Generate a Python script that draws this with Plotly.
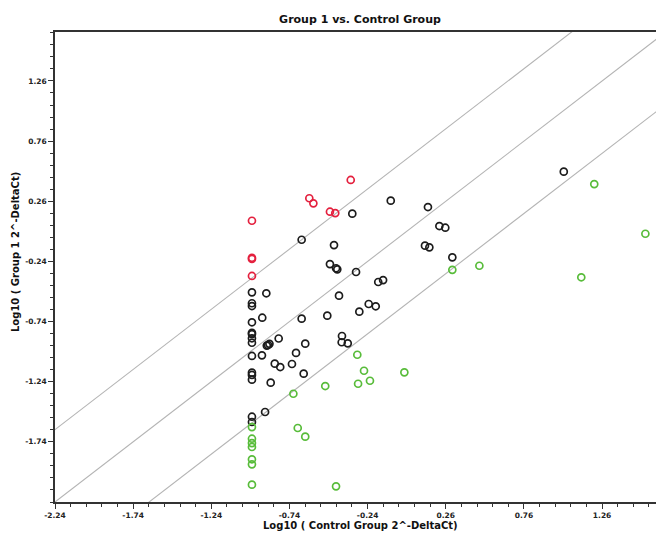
import math
import plotly.graph_objects as go

# ---- data (log10 2^-DeltaCt) ----
red_x = [-0.348, -0.613, -0.587, -0.481, -0.447, -0.98, -0.98, -0.98, -0.98]
red_y = [0.437, 0.285, 0.243, 0.173, 0.162, 0.098, -0.210, -0.220, -0.361]

black_x = [-0.092, 0.146, -0.338, 0.219, 0.257, -0.662, -0.455, 0.127, 0.155, 0.302,
           -0.481, -0.442, -0.434, -0.314, -0.172, -0.141, -0.98, -0.888, -0.423, -0.98,
           -0.98, -0.233, -0.188, -0.914, -0.662, -0.498, -0.293, -0.98, -0.98, -0.98,
           -0.98, -0.98, -0.809, -0.404, -0.885, -0.877, -0.868, -0.639, -0.406, -0.367,
           -0.98, -0.916, -0.698, -0.834, -0.799, -0.724, -0.649, -0.98, -0.98, -0.98,
           -0.860, -0.896, -0.98, -0.98, 1.015]
black_y = [0.265, 0.212, 0.157, 0.054, 0.040, -0.060, -0.104, -0.109, -0.123, -0.206,
           -0.262, -0.297, -0.306, -0.328, -0.411, -0.395, -0.497, -0.505, -0.525, -0.588,
           -0.611, -0.594, -0.613, -0.708, -0.716, -0.691, -0.658, -0.746, -0.833, -0.844,
           -0.879, -0.916, -0.881, -0.860, -0.940, -0.935, -0.925, -0.924, -0.912, -0.921,
           -1.026, -1.021, -1.001, -1.090, -1.118, -1.093, -1.173, -1.165, -1.184, -1.223,
           -1.248, -1.492, -1.531, -1.575, 0.506]

green_x = [0.302, 0.475, 1.210, 1.537, 1.127, -0.306, -0.263, -0.005, -0.511, -0.301,
           -0.225, -0.715, -0.98, -0.687, -0.639, -0.98, -0.98, -0.98, -0.98, -0.98,
           -0.98, -0.442]
green_y = [-0.310, -0.276, 0.403, -0.010, -0.372, -1.016, -1.149, -1.162, -1.276, -1.257,
           -1.232, -1.340, -1.617, -1.625, -1.697, -1.714, -1.750, -1.783, -1.885, -1.927,
           -2.096, -2.110]

fold_offsets = [math.log10(4), 0.0, -math.log10(4)]

x_tick_vals = [-2.24, -1.74, -1.24, -0.74, -0.24, 0.26, 0.76, 1.26]
x_tick_text = ["-2.24", "-1.74", "-1.24", "-0.74", "-0.24", "0.26", "0.76", "1.26"]
y_tick_vals = [-1.74, -1.24, -0.74, -0.24, 0.26, 0.76, 1.26]
y_tick_text = ["-1.74", "-1.24", "-0.74", "-0.24", "0.26", "0.76", "1.26"]

x_range = [-2.24, 1.605]
y_range = [-2.24, 1.667]

fig = go.Figure()

# boundary / identity lines
for off in fold_offsets:
    lx = [x_range[0] - 1, x_range[1] + 1]
    fig.add_trace(go.Scatter(x=lx, y=[v + off for v in lx], mode="lines",
                             line=dict(color="#b4b4b4", width=1.1),
                             hoverinfo="skip", showlegend=False))

def pts(x, y, color):
    return go.Scatter(x=x, y=y, mode="markers", showlegend=False,
                      marker=dict(symbol="circle-open", size=7, color=color,
                                  line=dict(width=1.7, color=color)))

fig.add_trace(pts(black_x, black_y, "#1c1c1c"))
fig.add_trace(pts(red_x, red_y, "#e4203e"))
fig.add_trace(pts(green_x, green_y, "#58bc3a"))

tickfont = dict(family="DejaVu Sans", size=7.5, color="#222", weight="bold")

fig.update_layout(
    width=656, height=533,
    margin=dict(l=55, r=0, t=32, b=31),
    paper_bgcolor="white", plot_bgcolor="white",
    title=dict(text="Group 1 vs. Control Group", xref="container", x=360 / 656,
               xanchor="center", y=1 - 19 / 533, yanchor="middle",
               font=dict(family="DejaVu Sans", size=11, color="#111", weight="bold")),
    xaxis=dict(range=x_range, tickmode="array", tickvals=x_tick_vals, ticktext=x_tick_text,
               showgrid=False, zeroline=False, showline=True, mirror=True,
               linecolor="#333", linewidth=1.5, ticks="outside", ticklen=5,
               tickcolor="#333", tickwidth=1, tickfont=tickfont,
               minor=dict(tickmode="linear", tick0=-2.24, dtick=0.1, ticks="outside",
                          ticklen=3, tickcolor="#333", showgrid=False)),
    yaxis=dict(range=y_range, tickmode="array", tickvals=y_tick_vals, ticktext=y_tick_text,
               showgrid=False, zeroline=False, showline=True, mirror=False,
               linecolor="#333", linewidth=1.5, ticks="outside", ticklen=5,
               tickcolor="#333", tickwidth=1, tickfont=tickfont,
               minor=dict(tickmode="linear", tick0=-2.24, dtick=0.1, ticks="outside",
                          ticklen=3, tickcolor="#333", showgrid=False)),
    annotations=[
        dict(text="Log10 ( Control Group 2^-DeltaCt)", xref="paper", yref="paper",
             x=(360 - 55) / 601, y=(502 - 525) / 470, xanchor="center", yanchor="middle",
             showarrow=False,
             font=dict(family="DejaVu Sans", size=10, color="#111", weight="bold")),
        dict(text="Log10 ( Group 1 2^-DeltaCt)", xref="paper", yref="paper",
             x=(15 - 55) / 601, y=(502 - 252) / 470, xanchor="center", yanchor="middle",
             textangle=-90, showarrow=False,
             font=dict(family="DejaVu Sans", size=10, color="#111", weight="bold")),
    ],
)

fig.write_html("out.html")
